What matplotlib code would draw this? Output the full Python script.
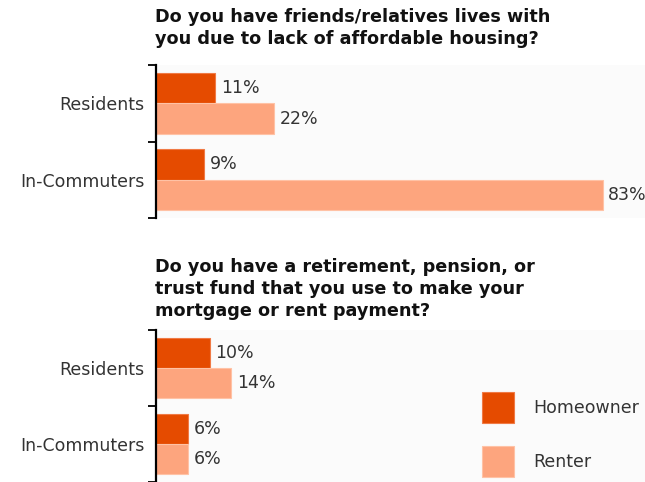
import matplotlib.pyplot as plt
from matplotlib.patches import Patch

groups = ['Residents', 'In-Commuters']
series = ['Homeowner', 'Renter']

q1_title = 'Do you have friends/relatives lives with\nyou due to lack of affordable housing?'
q1_homeowner = [11, 9]
q1_renter = [22, 83]

q2_title = 'Do you have a retirement, pension, or\ntrust fund that you use to make your\nmortgage or rent payment?'
q2_homeowner = [10, 6]
q2_renter = [14, 6]

colors = ['#E54B00', '#FDA57E']
edges = ['#F07A45', '#FFC2A5']
label_color = '#333333'
fs = 12.5

plt.rcParams['font.family'] = ['DejaVu Sans']

W, H = 645, 482
fig = plt.figure(figsize=(W / 100, H / 100), dpi=100)


def panel(top_px, bottom_px, homeowner, renter):
    left = 156 / W
    ax = fig.add_axes([left, 1 - bottom_px / H, 1 - left, (bottom_px - top_px) / H])
    ax.set_facecolor('#fbfbfb')
    y = list(range(len(groups)))
    for vals, off, c, ec in [(homeowner, -0.2, colors[0], edges[0]),
                             (renter, 0.2, colors[1], edges[1])]:
        ys = [v + off for v in y]
        ax.barh(ys, vals, height=0.4, color=c, edgecolor=ec, linewidth=0.8)
        for yy, v in zip(ys, vals):
            ax.annotate(f'{v}%', (v, yy), xytext=(4, 0), textcoords='offset points',
                        va='center', ha='left', fontsize=fs, color=label_color,
                        annotation_clip=False)
    ax.set_xlim(0, (W - 156) / 5.38)
    ax.set_ylim(len(groups) - 0.5, -0.5)
    ax.set_xticks([])
    ax.set_yticks(y)
    ax.set_yticklabels(groups, fontsize=fs, color=label_color)
    ax.tick_params(axis='y', which='major', length=0, pad=8.5)
    ax.set_yticks([-0.5, 0.5, 1.5], minor=True)
    ax.tick_params(axis='y', which='minor', length=6, width=1.3, color='black')
    for s in ['top', 'right', 'bottom']:
        ax.spines[s].set_visible(False)
    ax.spines['left'].set_linewidth(1.6)
    return ax


panel(65, 218, q1_homeowner, q1_renter)
panel(330, 482, q2_homeowner, q2_renter)

fig.text(155 / W, 1 - 8 / H, q1_title, ha='left', va='top', fontsize=12.7,
         fontweight='bold', color='#111111', linespacing=1.3)
fig.text(155 / W, 1 - 258 / H, q2_title, ha='left', va='top', fontsize=12.7,
         fontweight='bold', color='#111111', linespacing=1.3)

handles = [Patch(facecolor=c, edgecolor=ec, linewidth=0.8) for c, ec in zip(colors, edges)]
fig.legend(handles, series, loc='upper left', bbox_to_anchor=(482 / W, 1 - 392 / H),
           frameon=False, fontsize=fs, handlelength=1.85, handleheight=2.4,
           handletextpad=1.1, labelspacing=1.3, borderpad=0, borderaxespad=0,
           labelcolor=label_color)

fig.savefig('out.png', dpi=100)
